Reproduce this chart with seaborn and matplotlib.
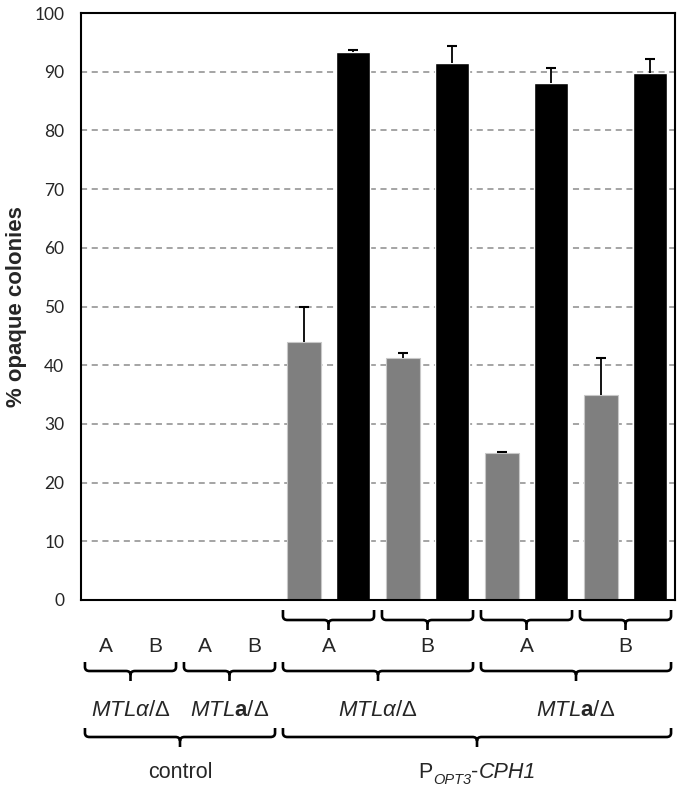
import numpy as np
import pandas as pd
import matplotlib
matplotlib.use("Agg")
import matplotlib.pyplot as plt
import seaborn as sns
from matplotlib.path import Path
from matplotlib.patches import PathPatch
from matplotlib.transforms import blended_transform_factory

# ---------------- data ----------------
bar_ids = ["ctrl_alpha_A", "ctrl_alpha_B", "ctrl_a_A", "ctrl_a_B",
           "P_alpha_A_1", "P_alpha_A_2", "P_alpha_B_1", "P_alpha_B_2",
           "P_a_A_1", "P_a_A_2", "P_a_B_1", "P_a_B_2"]
values = [0, 0, 0, 0, 44.0, 93.3, 41.2, 91.4, 25.0, 88.0, 35.0, 89.7]
err_upper = [0, 0, 0, 0, 6.0, 0.4, 0.9, 3.0, 0.2, 2.7, 6.2, 2.5]
bar_colors = ["#7f7f7f", "#7f7f7f", "#7f7f7f", "#7f7f7f",
              "#7f7f7f", "#000000", "#7f7f7f", "#000000",
              "#7f7f7f", "#000000", "#7f7f7f", "#000000"]
strain_labels = ["A", "B", "A", "B", "A", "B", "A", "B"]
genotype_labels = [r"$\mathit{MTL}\alpha\mathit{/}\Delta$",
                   r"$\mathit{MTL}\mathbf{a}\mathit{/}\Delta$",
                   r"$\mathit{MTL}\alpha\mathit{/}\Delta$",
                   r"$\mathit{MTL}\mathbf{a}\mathit{/}\Delta$"]
control_label = "control"
promoter_parts = ["P", "OPT3", "-", "CPH1"]
y_label = "% opaque colonies"
y_ticks = [0, 10, 20, 30, 40, 50, 60, 70, 80, 90, 100]

# ---------------- style ----------------
sns.set_style("white")
plt.rcParams["font.family"] = ["Liberation Sans", "DejaVu Sans"]
plt.rcParams["mathtext.fontset"] = "custom"
plt.rcParams["mathtext.rm"] = "Liberation Sans"
plt.rcParams["mathtext.it"] = "Liberation Sans:italic"
plt.rcParams["mathtext.bf"] = "Liberation Sans:bold"
plt.rcParams["mathtext.sf"] = "Liberation Sans"

W, H = 682, 791
fig = plt.figure(figsize=(W / 100, H / 100), dpi=100)
ax = fig.add_axes([81 / W, 1 - 600 / H, (675 - 81) / W, (600 - 13) / H])

df = pd.DataFrame({"bar": bar_ids, "value": values})
sns.barplot(data=df, x="bar", y="value", hue="bar", order=bar_ids,
            palette=dict(zip(bar_ids, bar_colors)), legend=False,
            width=0.68, ax=ax, errorbar=None, saturation=1)

for p, c in zip(ax.patches, bar_colors):
    if c != "#000000":
        p.set_edgecolor("#c8c8c8")
        p.set_linewidth(0.8)

xs = np.arange(len(values))
idx = [i for i in range(len(values)) if values[i] > 0]
eb = ax.errorbar(xs[idx], np.array(values)[idx],
                 yerr=[np.zeros(len(idx)), np.array(err_upper)[idx]],
                 fmt="none", ecolor="black", elinewidth=1.3, capsize=3.5,
                 capthick=1.5, zorder=5)
eb[1][0].set_visible(False)  # keep only the upper caps

ax.set_xlim(-0.5, len(values) - 0.5)
ax.set_ylim(0, 100)
ax.set_yticks(y_ticks)
ax.set_yticklabels([str(t) for t in y_ticks], fontsize=12.5, family="Lato")
ax.set_xticks(np.arange(-0.5, len(values) + 0.5, 1))
ax.set_xticklabels([])
ax.tick_params(axis="both", direction="out", length=4, width=1.2, color="black")
ax.tick_params(axis="y", pad=8)
ax.set_xlabel("")
ax.set_ylabel(y_label, fontsize=16, fontweight="bold", va="center")
ax.yaxis.set_label_coords(-0.108, 0.5)
ax.yaxis.grid(True, linestyle=(0, (4, 3)), color="#8c8c8c", linewidth=1.1)
ax.set_axisbelow(True)
for s in ax.spines.values():
    s.set_visible(True)
    s.set_color("black")
    s.set_linewidth(1.5)

# ---------------- annotations below axis ----------------
trans = blended_transform_factory(ax.transData, fig.transFigure)


def fy(py):
    return 1 - py / H


def brace(x0, x1, ytop, yline, ynub, lw=1.9):
    rx, ry = 0.09, 4
    xc = (x0 + x1) / 2
    verts = [(x0, fy(ytop)), (x0, fy(yline - ry)), (x0, fy(yline)), (x0 + rx, fy(yline)),
             (xc - rx, fy(yline)), (xc, fy(yline)), (xc, fy(yline + ry)), (xc, fy(ynub)),
             (xc, fy(yline + ry)), (xc, fy(yline)), (xc + rx, fy(yline)),
             (x1 - rx, fy(yline)), (x1, fy(yline)), (x1, fy(yline - ry)), (x1, fy(ytop))]
    codes = [Path.MOVETO, Path.LINETO, Path.CURVE3, Path.CURVE3,
             Path.LINETO, Path.CURVE3, Path.CURVE3, Path.LINETO,
             Path.MOVETO, Path.CURVE3, Path.CURVE3,
             Path.LINETO, Path.CURVE3, Path.CURVE3, Path.LINETO]
    patch = PathPatch(Path(verts, codes), transform=trans, fill=False,
                      edgecolor="black", linewidth=lw, clip_on=False,
                      capstyle="butt", joinstyle="round")
    fig.add_artist(patch)


inset = 0.08
for g in range(4):
    a = 3.5 + 2 * g
    brace(a + inset, a + 2 - inset, 610, 620, 630)
strain_x = [0, 1, 2, 3, 4.5, 6.5, 8.5, 10.5]
for x, lab in zip(strain_x, strain_labels):
    ax.text(x, fy(646), lab, transform=trans, ha="center", va="center", fontsize=15)

geno_spans = [(-0.5, 1.5), (1.5, 3.5), (3.5, 7.5), (7.5, 11.5)]
for (a, b), lab in zip(geno_spans, genotype_labels):
    brace(a + inset, b - inset, 662, 671, 681)
    ax.text((a + b) / 2, fy(710), lab, transform=trans, ha="center",
            va="center", fontsize=16)

cons_spans = [(-0.5, 3.5), (3.5, 11.5)]
for a, b in cons_spans:
    brace(a + inset, b - inset, 728, 737, 747)
ax.text(sum(cons_spans[0]) / 2, fy(772), control_label, transform=trans,
        ha="center", va="center", fontsize=15.5)

# P_OPT3-CPH1 built from chained texts so every part keeps its style
pc = sum(cons_spans[1]) / 2
t1 = ax.text(pc, fy(772), promoter_parts[0], transform=trans, ha="left",
             va="center", fontsize=15.5)
t2 = ax.annotate(promoter_parts[1], xy=(1, 0), xycoords=t1, xytext=(0.3, -3.5),
                 textcoords="offset points", fontsize=10.5, style="italic",
                 ha="left", va="bottom", annotation_clip=False)
t3 = ax.annotate(promoter_parts[2], xy=(1, 0), xycoords=(t2, t1), xytext=(0.3, 0),
                 textcoords="offset points", fontsize=15.5, ha="left",
                 va="bottom", annotation_clip=False)
t4 = ax.annotate(promoter_parts[3], xy=(1, 0), xycoords=(t3, t1), xytext=(0, 0),
                 textcoords="offset points", fontsize=15.5, style="italic",
                 ha="left", va="bottom", annotation_clip=False)
fig.canvas.draw()
r = fig.canvas.get_renderer()
left = t1.get_window_extent(r).x0
right = t4.get_window_extent(r).x1
target = trans.transform((pc, 0))[0]
shift_px = (left + right) / 2 - target
px_per_unit = trans.transform((1, 0))[0] - trans.transform((0, 0))[0]
t1.set_x(pc - shift_px / px_per_unit)

fig.savefig("out.png", dpi=100)
